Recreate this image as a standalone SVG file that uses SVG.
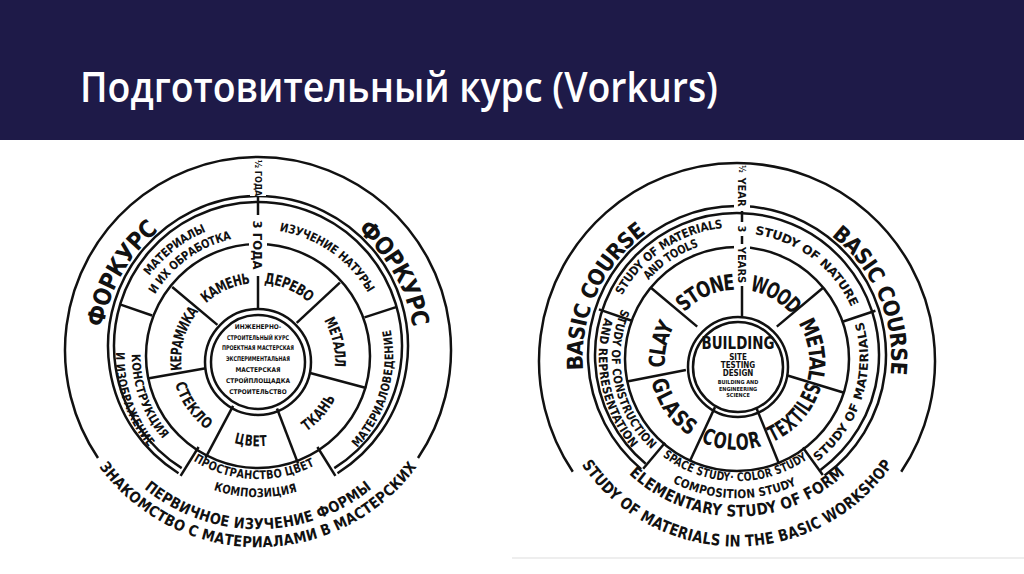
<svg xmlns="http://www.w3.org/2000/svg" width="1024" height="574" viewBox="0 0 1024 574">
<style>
.ln{fill:none;stroke:#111;stroke-width:2.5}
.t{font-family:"DejaVu Sans Condensed","DejaVu Sans",sans-serif;font-weight:bold;fill:#111}
</style>
<defs>
<path id="L1" d="M258,517 A165,165 0 1 1 258,187 A165,165 0 1 1 258,517"/>
<path id="L2" d="M258,495 A139,139 0 1 1 258,217 A139,139 0 1 1 258,495"/>
<path id="L3" d="M258,480 A124,124 0 1 1 258,232 A124,124 0 1 1 258,480"/>
<path id="L4" d="M258,487 A131,131 0 1 1 258,225 A131,131 0 1 1 258,487"/>
<path id="L5" d="M258,225 A131,131 0 1 0 258,487 A131,131 0 1 0 258,225"/>
<path id="L6" d="M258,237 A119,119 0 1 0 258,475 A119,119 0 1 0 258,237"/>
<path id="L7" d="M258,219 A137,137 0 1 0 258,493 A137,137 0 1 0 258,219"/>
<path id="L8" d="M258,234 A122,122 0 1 0 258,478 A122,122 0 1 0 258,234"/>
<path id="L9" d="M258,218 A138,138 0 1 0 258,494 A138,138 0 1 0 258,218"/>
<path id="L10" d="M258,176 A174,174 0 1 0 258,524 A174,174 0 1 0 258,176"/>
<path id="L11" d="M258,158 A192,192 0 1 0 258,542 A192,192 0 1 0 258,158"/>
<path id="Lic" d="M258,442 A82,82 0 1 1 258,278 A82,82 0 1 1 258,442"/>
<path id="Lia" d="M258,279 A81,81 0 1 0 258,441 A81,81 0 1 0 258,279"/>
<path id="R1" d="M737,520 A162,162 0 1 1 737,196 A162,162 0 1 1 737,520"/>
<path id="R2" d="M737,493 A135,135 0 1 1 737,223 A135,135 0 1 1 737,493"/>
<path id="R3" d="M737,480 A122,122 0 1 1 737,236 A122,122 0 1 1 737,480"/>
<path id="R4" d="M737,487 A129,129 0 1 1 737,229 A129,129 0 1 1 737,487"/>
<path id="R5" d="M737,231 A127,127 0 1 0 737,485 A127,127 0 1 0 737,231"/>
<path id="R6" d="M737,239 A119,119 0 1 0 737,477 A119,119 0 1 0 737,239"/>
<path id="R7" d="M737,222 A136,136 0 1 0 737,494 A136,136 0 1 0 737,222"/>
<path id="R8" d="M737,237 A121,121 0 1 0 737,479 A121,121 0 1 0 737,237"/>
<path id="R9" d="M737,224 A134,134 0 1 0 737,492 A134,134 0 1 0 737,224"/>
<path id="R10" d="M737,205 A153,153 0 1 0 737,511 A153,153 0 1 0 737,205"/>
<path id="R11" d="M737,175 A183,183 0 1 0 737,541 A183,183 0 1 0 737,175"/>
<path id="Ric" d="M737,442 A80,80 0 1 1 737,282 A80,80 0 1 1 737,442"/>
<path id="Ria" d="M737,282 A80,80 0 1 0 737,442 A80,80 0 1 0 737,282"/>
</defs>
<rect width="1024" height="574" fill="#fff"/>
<g id="header">
<rect x="0" y="0" width="1024" height="140" fill="#1e1a48"/>
<text x="80" y="102" font-family="'Open Sans','Noto Sans',sans-serif" font-size="42" font-weight="600" fill="#fff" textLength="638" lengthAdjust="spacingAndGlyphs">Подготовительный курс (Vorkurs)</text>
</g>
<line x1="512" y1="558" x2="1024" y2="558" stroke="#ddd" stroke-width="1"/>

<g id="left-diagram">
<path class="ln" d="M98,458 A193,193 0 1 1 418,458"/>
<path class="ln" d="M178.5,473.2 A150,150 0 1 1 337.5,473.2"/>
<path class="ln" d="M181.7,468.1 A144,144 0 1 1 334.3,468.1"/>
<circle class="ln" cx="258" cy="356" r="112"/>
<circle class="ln" cx="258" cy="362" r="53"/>
<circle class="ln" cx="258" cy="362" r="47"/>
<g id="left-spokes" class="ln">
<line x1="217.4" y1="324.9" x2="172.2" y2="287"/>
<line x1="296.7" y1="322.9" x2="339.9" y2="282.6"/>
<line x1="309.2" y1="372.7" x2="366.2" y2="388"/>
<line x1="277" y1="408.5" x2="298.1" y2="463.6"/>
<line x1="233.1" y1="405.8" x2="205.5" y2="457.9"/>
<line x1="205.8" y1="368.2" x2="147.7" y2="378.5"/>
<line x1="152.1" y1="315.5" x2="119.9" y2="304.4"/>
<line x1="364.5" y1="317.4" x2="396.8" y2="306.9"/>
<line x1="317.4" y1="447" x2="335.4" y2="475.8"/>
<line x1="198.6" y1="447" x2="180.6" y2="475.8"/>
<line x1="258" y1="309" x2="258" y2="276"/>
<line x1="258" y1="196" x2="258" y2="215"/>
</g>
<rect x="249" y="216" width="18" height="59" fill="#fff"/>
<rect x="250" y="160" width="16" height="36" fill="#fff"/>
<text class="t" font-size="13" transform="translate(258,245) rotate(90)" text-anchor="middle" dy="0.35em">3 ГОДА</text>
<text class="t" font-size="9" transform="translate(258,178) rotate(90)" text-anchor="middle" dy="0.35em">½ ГОДА</text>
<g class="t" font-size="24" text-anchor="middle">
<text dy="0.35em"><textPath href="#L1" startOffset="33.3%" textLength="119" lengthAdjust="spacingAndGlyphs">ФОРКУРС</textPath></text>
<text dy="0.35em"><textPath href="#L1" startOffset="66.7%" textLength="119" lengthAdjust="spacingAndGlyphs">ФОРКУРС</textPath></text>
</g>
<g class="t" font-size="12" text-anchor="middle">
<text dy="0.35em"><textPath href="#L2" startOffset="39.4%" textLength="75" lengthAdjust="spacingAndGlyphs">МАТЕРИАЛЫ</textPath></text>
<text dy="0.35em"><textPath href="#L3" startOffset="40%" textLength="100" lengthAdjust="spacingAndGlyphs">И ИХ ОБРАБОТКА</textPath></text>
<text dy="0.35em"><textPath href="#L4" startOffset="59.7%" textLength="115" lengthAdjust="spacingAndGlyphs">ИЗУЧЕНИЕ НАТУРЫ</textPath></text>
<text dy="0.35em"><textPath href="#L5" startOffset="70.6%" textLength="124" lengthAdjust="spacingAndGlyphs">МАТЕРИАЛОВЕДЕНИЕ</textPath></text>
<text dy="0.35em"><textPath href="#L6" startOffset="49.4%" textLength="123" lengthAdjust="spacingAndGlyphs">ПРОСТРАНСТВО ЦВЕТ</textPath></text>
<text dy="0.35em"><textPath href="#L7" startOffset="49.7%" textLength="83" lengthAdjust="spacingAndGlyphs">КОМПОЗИЦИЯ</textPath></text>
<text dy="0.35em"><textPath href="#L8" startOffset="30.6%" textLength="90" lengthAdjust="spacingAndGlyphs">КОНСТРУКЦИЯ</textPath></text>
<text dy="0.35em"><textPath href="#L9" startOffset="30.3%" textLength="100" lengthAdjust="spacingAndGlyphs">И ИЗОБРАЖЕНИЕ</textPath></text>
</g>
<g class="t" font-size="15" text-anchor="middle">
<text dy="0.35em"><textPath href="#L10" startOffset="50%" textLength="240" lengthAdjust="spacingAndGlyphs">ПЕРВИЧНОЕ ИЗУЧЕНИЕ ФОРМЫ</textPath></text>
<text dy="0.35em"><textPath href="#L11" startOffset="50%" textLength="360" lengthAdjust="spacingAndGlyphs">ЗНАКОМСТВО С МАТЕРИАЛАМИ В МАСТЕРСКИХ</textPath></text>
</g>
<g class="t" font-size="15" text-anchor="middle">
<text dy="0.35em"><textPath href="#Lic" startOffset="43.3%" textLength="52" lengthAdjust="spacingAndGlyphs">КАМЕНЬ</textPath></text>
<text dy="0.35em"><textPath href="#Lic" startOffset="56.4%" textLength="52" lengthAdjust="spacingAndGlyphs">ДЕРЕВО</textPath></text>
<text dy="0.35em"><textPath href="#Lic" startOffset="71.4%" textLength="51" lengthAdjust="spacingAndGlyphs">МЕТАЛЛ</textPath></text>
<text dy="0.35em"><textPath href="#Lia" startOffset="63.6%" textLength="42" lengthAdjust="spacingAndGlyphs">ТКАНЬ</textPath></text>
<text dy="0.35em"><textPath href="#Lia" startOffset="48.6%" textLength="32" lengthAdjust="spacingAndGlyphs">ЦВЕТ</textPath></text>
<text dy="0.35em"><textPath href="#Lia" startOffset="34.7%" textLength="54" lengthAdjust="spacingAndGlyphs">СТЕКЛО</textPath></text>
<text dy="0.35em"><textPath href="#Lic" startOffset="29.4%" textLength="67" lengthAdjust="spacingAndGlyphs">КЕРАМИКА</textPath></text>
</g>
<g class="t" font-size="6.5" text-anchor="middle">
<text x="258" y="328.5">ИНЖЕНЕРНО-</text>
<text x="258" y="339.5" textLength="62" lengthAdjust="spacingAndGlyphs">СТРОИТЕЛЬНЫЙ КУРС</text>
<text x="258" y="350" textLength="72" lengthAdjust="spacingAndGlyphs">ПРОЕКТНАЯ МАСТЕРСКАЯ</text>
<text x="258" y="361" textLength="64" lengthAdjust="spacingAndGlyphs">ЭКСПЕРИМЕНТАЛЬНАЯ</text>
<text x="258" y="372">МАСТЕРСКАЯ</text>
<text x="258" y="383">СТРОЙПЛОЩАДКА</text>
<text x="258" y="394">СТРОИТЕЛЬСТВО</text>
</g>
</g>

<g id="right-diagram">
<path class="ln" d="M572.8,471.7 A198,198 0 1 1 901.2,471.7"/>
<path class="ln" d="M641.2,469.1 A149,149 0 1 1 824.6,475.5"/>
<path class="ln" d="M645.7,463.8 A142,142 0 1 1 820.5,469.9"/>
<circle class="ln" cx="737" cy="359" r="112"/>
<circle class="ln" cx="738" cy="367" r="50"/>
<circle class="ln" cx="738" cy="367" r="45"/>
<g id="right-spokes" class="ln">
<line x1="697.2" y1="326.6" x2="651.2" y2="288"/>
<line x1="776.8" y1="326.6" x2="822.8" y2="288"/>
<line x1="786.7" y1="375.2" x2="844.1" y2="392.7"/>
<line x1="756.5" y1="408.2" x2="779" y2="463.8"/>
<line x1="715" y1="407.1" x2="689.7" y2="461.5"/>
<line x1="685.9" y1="369.9" x2="627.1" y2="381.4"/>
<line x1="631.1" y1="320.5" x2="598.9" y2="309.4"/>
<line x1="843.2" y1="321.5" x2="875.4" y2="310.7"/>
<line x1="802.9" y1="447.6" x2="822.8" y2="475.1"/>
<line x1="665" y1="442.8" x2="643.2" y2="468.8"/>
<line x1="742" y1="317" x2="742" y2="286"/>
<line x1="742" y1="211" x2="742" y2="222"/>
<line x1="742" y1="236" x2="742" y2="244"/>
</g>
<rect x="734" y="165" width="16" height="45" fill="#fff"/>
<rect x="734" y="223" width="16" height="12" fill="#fff"/>
<rect x="734" y="245" width="16" height="40" fill="#fff"/>
<text class="t" font-size="8" transform="translate(742,169) rotate(90)" text-anchor="middle" dy="0.35em">½</text>
<text class="t" font-size="11" transform="translate(742,192) rotate(90)" text-anchor="middle" dy="0.35em">YEAR</text>
<text class="t" font-size="11" transform="translate(742,229) rotate(90)" text-anchor="middle" dy="0.35em">3</text>
<text class="t" font-size="11" transform="translate(742,265) rotate(90)" text-anchor="middle" dy="0.35em">YEARS</text>
<g class="t" font-size="22" text-anchor="middle">
<text dy="0.35em"><textPath href="#R1" startOffset="31.9%" textLength="165" lengthAdjust="spacingAndGlyphs">BASIC COURSE</textPath></text>
<text dy="0.35em"><textPath href="#R1" startOffset="68.6%" textLength="165" lengthAdjust="spacingAndGlyphs">BASIC COURSE</textPath></text>
</g>
<g class="t" font-size="12" text-anchor="middle">
<text dy="0.35em"><textPath href="#R2" startOffset="40.6%" textLength="130" lengthAdjust="spacingAndGlyphs">STUDY OF MATERIALS</textPath></text>
<text dy="0.35em"><textPath href="#R3" startOffset="40.6%" textLength="63" lengthAdjust="spacingAndGlyphs">AND TOOLS</textPath></text>
<text dy="0.35em"><textPath href="#R4" startOffset="60.3%" textLength="130" lengthAdjust="spacingAndGlyphs">STUDY OF NATURE</textPath></text>
<text dy="0.35em"><textPath href="#R5" startOffset="70%" textLength="152" lengthAdjust="spacingAndGlyphs">STUDY OF MATERIALS</textPath></text>
<text dy="0.35em"><textPath href="#R6" startOffset="49.7%" textLength="150" lengthAdjust="spacingAndGlyphs">SPACE STUDY· COLOR STUDY</textPath></text>
<text dy="0.35em"><textPath href="#R7" startOffset="49.7%" textLength="125" lengthAdjust="spacingAndGlyphs">COMPOSITION STUDY</textPath></text>
<text dy="0.35em"><textPath href="#R8" startOffset="28.3%" textLength="148" lengthAdjust="spacingAndGlyphs">STUDY OF CONSTRUCTION</textPath></text>
<text dy="0.35em"><textPath href="#R9" startOffset="28.3%" textLength="135" lengthAdjust="spacingAndGlyphs">AND REPRESENTATION</textPath></text>
</g>
<g class="t" font-size="16" text-anchor="middle">
<text dy="0.35em"><textPath href="#R10" startOffset="50%" textLength="230" lengthAdjust="spacingAndGlyphs">ELEMENTARY STUDY OF FORM</textPath></text>
<text dy="0.35em"><textPath href="#R11" startOffset="50%" textLength="355" lengthAdjust="spacingAndGlyphs">STUDY OF MATERIALS IN THE BASIC WORKSHOP</textPath></text>
</g>
<g class="t" font-size="22" text-anchor="middle">
<text dy="0.35em"><textPath href="#Ric" startOffset="43.3%" textLength="62" lengthAdjust="spacingAndGlyphs">STONE</textPath></text>
<text dy="0.35em"><textPath href="#Ric" startOffset="58.3%" textLength="54" lengthAdjust="spacingAndGlyphs">WOOD</textPath></text>
<text dy="0.35em"><textPath href="#Ric" startOffset="72.5%" textLength="64" lengthAdjust="spacingAndGlyphs">METAL</textPath></text>
<text dy="0.35em"><textPath href="#Ria" startOffset="63.6%" textLength="70" lengthAdjust="spacingAndGlyphs">TEXTILES</textPath></text>
<text dy="0.35em"><textPath href="#Ria" startOffset="48.9%" textLength="58" lengthAdjust="spacingAndGlyphs">COLOR</textPath></text>
<text dy="0.35em"><textPath href="#Ria" startOffset="34.7%" textLength="64" lengthAdjust="spacingAndGlyphs">GLASS</textPath></text>
<text dy="0.35em"><textPath href="#Ric" startOffset="28.6%" textLength="47" lengthAdjust="spacingAndGlyphs">CLAY</textPath></text>
</g>
<g class="t" text-anchor="middle">
<text x="738" y="349" font-size="18" textLength="73" lengthAdjust="spacingAndGlyphs">BUILDING</text>
<text x="738" y="360" font-size="8">SITE</text>
<text x="738" y="368" font-size="8">TESTING</text>
<text x="738" y="376" font-size="8">DESIGN</text>
<text x="738" y="384" font-size="5.5">BUILDING AND</text>
<text x="738" y="390.5" font-size="5.5">ENGINEERING</text>
<text x="738" y="397" font-size="5.5">SCIENCE</text>
</g>
</g>
</svg>
